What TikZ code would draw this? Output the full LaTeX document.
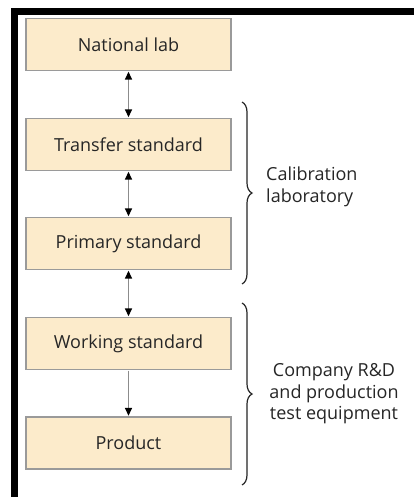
\documentclass[tikz,border=0pt]{standalone}
\usepackage{fontspec}
\setmainfont{Open Sans}
\usetikzlibrary{arrows.meta,decorations.pathreplacing}
\definecolor{boxfill}{HTML}{FCEBCB}
\definecolor{boxline}{HTML}{9A9A9A}
\definecolor{txt}{HTML}{262626}
\definecolor{link}{HTML}{8C8C8C}
\begin{document}
\begin{tikzpicture}[x=1pt,y=-1pt,
  stage/.style={draw=boxline,line width=1.4pt,fill=boxfill,minimum width=205pt,minimum height=52pt,
    inner sep=0pt,text=txt,font=\fontsize{18}{21.5}\selectfont},
  link/.style={draw=link,line width=1.5pt,shorten <=0.5pt,shorten >=0.5pt},
  tip/.tip={Triangle[width=7pt,length=8pt,black]},
  grp/.style={draw=txt,line width=1.2pt,decorate,decoration={brace,amplitude=10pt,raise=0pt}},
  note/.style={text=txt,font=\fontsize{18}{21.5}\selectfont,inner sep=0pt}]
\useasboundingbox (0,0) rectangle (414,497);
\fill[white] (0,0) rectangle (414,497);
% thick frame along the top and left edges
\begin{scope}
  \clip (0,0) rectangle (414,497);
  \draw[black,line width=7pt] (14.5,510) -- (14.5,11.5) -- (430,11.5);
\end{scope}
% chain of standards
\node[stage] (nat)  at (128.5,44.5)  {National lab};
\node[stage] (tra)  at (128.5,144.5) {Transfer standard};
\node[stage] (pri)  at (128.5,243.5) {Primary standard};
\node[stage] (work) at (128.5,343.5) {Working standard};
\node[stage] (prod) at (128.5,443)   {Product};
% traceability links
\draw[link,{tip}-{tip}] (nat) -- (tra);
\draw[link,{tip}-{tip}] (tra) -- (pri);
\draw[link,{tip}-{tip}] (pri) -- (work);
\draw[link,-{tip}] (work) -- (prod);
% groupings
\coordinate (b1a) at (242,102);
\coordinate (b1b) at (242,284);
\coordinate (b2a) at (242,303);
\coordinate (b2b) at (242,485);
\draw[grp] (b1a) -- (b1b);
\draw[grp] (b2a) -- (b2b);
\node[note,anchor=west,align=left] (cal) at (266,187) {Calibration\\laboratory};
\node[note,align=center] (comp) at (334,394) {Company R\&D\\and production\\test equipment};
\end{tikzpicture}
\end{document}
